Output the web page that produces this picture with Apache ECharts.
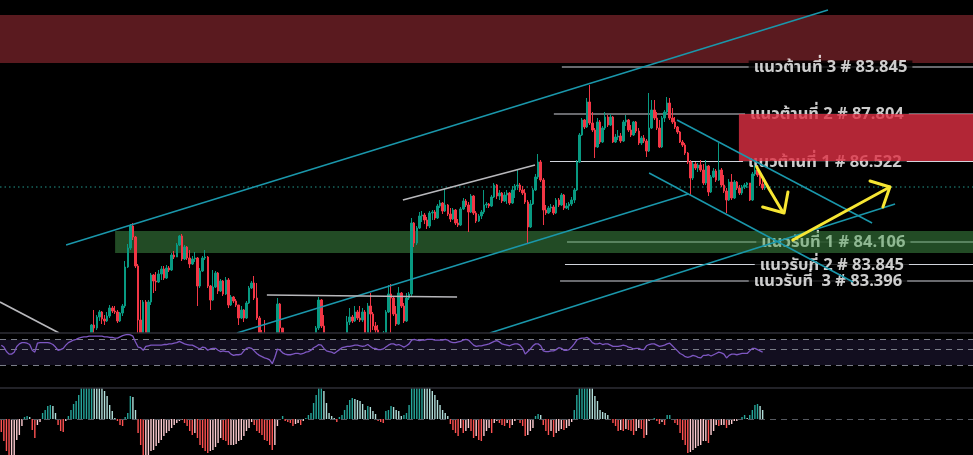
<!DOCTYPE html>
<html><head><meta charset="utf-8">
<script src="https://cdn.jsdelivr.net/npm/echarts@6/dist/echarts.min.js"></script>
<style>html,body{margin:0;padding:0;background:#000;overflow:hidden}#c{width:973px;height:455px}</style>
</head><body><div id="c"></div>
<script>
// ---------- data ----------
const barCount = 377;          // slots on the time axis (incl. empty right margin)
const candleStart = 34;        // first bar index that has a visible candle
const firstOpen = 86.55;

const closes = [
86.58,86.75,86.72,86.83,86.88,86.81,86.79,86.84,86.92,86.89,
86.88,86.79,86.87,86.94,87.33,87.52,87.74,87.63,87.34,86.80,
86.60,86.98,86.62,86.98,87.25,87.19,87.18,87.26,87.31,87.22,
87.32,87.30,87.45,87.43,87.55,87.64,87.41,87.53,87.42,87.36,
87.41,87.42,87.14,87.29,87.42,87.43,87.14,87.00,87.13,87.27,
87.09,87.19,87.06,87.20,86.95,87.03,86.99,86.95,86.82,86.90,
86.82,86.97,87.12,87.17,87.02,86.82,86.67,86.65,86.60,86.52,
86.48,86.44,86.50,86.96,86.72,86.55,86.50,86.44,86.40,86.38,
86.42,86.45,86.48,86.44,86.50,86.54,86.58,86.62,86.72,87.00,
86.74,86.55,86.50,86.44,86.40,86.45,86.48,86.52,86.55,86.60,
86.78,86.83,86.79,86.88,86.82,86.80,86.88,86.67,86.94,86.86,
86.74,86.70,86.60,86.55,86.67,86.88,87.06,87.02,86.86,86.76,
87.07,86.94,86.79,87.02,87.06,87.77,87.57,87.72,87.84,87.85,
87.80,87.74,87.87,87.88,87.82,87.94,87.97,87.89,87.95,87.86,
87.81,87.90,87.77,87.75,87.91,87.99,87.95,87.88,88.04,87.87,
87.79,87.84,87.88,87.95,87.96,87.94,88.03,88.15,88.04,88.07,
87.99,88.05,88.07,87.97,88.10,88.14,88.15,88.10,88.07,87.98,
87.73,87.96,88.10,88.23,88.38,88.20,87.90,87.87,87.92,87.93,
87.87,88.00,87.95,88.05,87.92,87.94,87.96,88.00,88.10,88.38,
88.65,88.80,88.73,88.98,88.77,88.70,88.53,88.78,88.58,88.72,
88.83,88.75,88.83,88.58,88.63,88.64,88.59,88.78,88.80,88.70,
88.65,88.78,88.69,88.57,88.62,88.59,88.49,88.72,88.90,88.82,
88.72,88.53,88.82,88.88,88.97,88.82,88.78,88.73,88.68,88.58,
88.55,88.47,88.38,88.22,88.36,88.32,88.35,88.30,88.17,88.34,
88.08,88.23,88.29,88.20,88.30,88.15,88.09,88.00,88.18,88.02,
88.18,88.12,88.07,88.13,88.15,88.17,88.00,88.26,88.30,88.25,
88.16,88.12,88.13];

const highs = [
86.62,86.76,86.90,86.85,86.90,86.89,86.85,86.88,86.95,86.94,
86.94,86.90,86.88,86.96,87.39,87.56,87.76,87.77,87.64,87.36,
87.00,87.00,87.00,87.00,87.27,87.26,87.28,87.30,87.34,87.34,
87.35,87.34,87.47,87.49,87.57,87.65,87.66,87.55,87.54,87.50,
87.44,87.48,87.43,87.32,87.44,87.50,87.44,87.15,87.30,87.29,
87.28,87.21,87.20,87.23,87.22,87.05,87.04,87.01,86.95,86.94,
86.91,86.99,87.14,87.19,87.24,87.17,86.84,86.70,86.80,86.62,
86.58,86.54,86.56,87.02,86.97,86.72,86.60,86.52,86.48,86.45,
86.48,86.52,86.54,86.52,86.55,86.60,86.62,86.66,86.74,87.03,
87.01,86.85,86.58,86.52,86.48,86.50,86.54,86.58,86.60,86.64,
86.84,86.92,86.85,86.94,86.90,86.94,86.92,86.90,86.97,87.07,
86.88,86.78,86.75,86.67,86.69,86.90,87.15,87.16,87.04,86.94,
87.13,87.08,86.97,87.07,87.08,87.82,87.78,87.74,87.88,87.89,
87.87,87.83,87.89,87.90,87.90,87.96,88.00,87.98,88.11,87.96,
87.92,87.92,87.91,87.81,87.93,88.02,88.01,87.98,88.06,88.05,
87.89,87.86,87.90,88.10,87.98,87.97,88.05,88.17,88.16,88.10,
88.08,88.08,88.10,88.08,88.14,88.16,88.30,88.17,88.14,88.11,
88.00,88.00,88.12,88.26,88.46,88.40,88.22,87.95,87.94,87.96,
87.95,88.02,88.02,88.07,88.06,87.97,87.98,88.03,88.12,88.40,
88.67,88.82,88.81,89.02,89.15,88.88,88.72,88.82,88.80,88.74,
88.88,88.85,88.86,88.84,88.66,88.70,88.67,88.80,88.85,88.81,
88.75,88.79,88.79,88.72,88.64,88.65,88.61,89.07,89.00,89.00,
88.88,88.80,88.84,88.90,89.03,89.02,88.92,88.83,88.74,88.69,
88.60,88.57,88.48,88.40,88.38,88.38,88.37,88.40,88.36,88.40,
88.35,88.25,88.32,88.31,88.57,88.32,88.25,88.12,88.21,88.26,
88.20,88.19,88.15,88.15,88.17,88.18,88.17,88.28,88.35,88.32,
88.28,88.22,88.17];

const lows = [
86.50,86.55,86.67,86.70,86.79,86.76,86.75,86.78,86.82,86.87,
86.86,86.77,86.78,86.84,86.92,87.32,87.50,87.60,87.32,86.65,
86.50,86.55,86.55,86.55,86.95,87.07,87.09,87.17,87.20,87.20,
87.21,87.28,87.29,87.41,87.43,87.54,87.39,87.40,87.40,87.32,
87.35,87.38,86.94,87.12,87.28,87.40,87.12,86.90,86.99,87.12,
87.06,87.08,87.04,87.05,86.92,86.94,86.97,86.93,86.75,86.81,
86.78,86.81,86.96,87.11,87.00,86.80,86.64,86.60,86.55,86.48,
86.44,86.40,86.42,86.48,86.65,86.50,86.45,86.40,86.35,86.32,
86.36,86.40,86.42,86.40,86.42,86.48,86.52,86.55,86.55,86.70,
86.72,86.50,86.44,86.40,86.36,86.38,86.42,86.46,86.50,86.50,
86.60,86.75,86.77,86.78,86.80,86.78,86.78,86.60,86.60,86.67,
86.70,86.65,86.55,86.50,86.52,86.66,86.87,86.67,86.84,86.74,
86.75,86.92,86.77,86.78,87.00,87.04,87.53,87.55,87.71,87.78,
87.76,87.71,87.72,87.80,87.80,87.81,87.92,87.86,87.88,87.84,
87.78,87.80,87.75,87.73,87.74,87.90,87.93,87.68,87.87,87.85,
87.77,87.78,87.81,87.86,87.92,87.92,87.93,88.02,88.01,88.00,
87.97,87.98,87.96,87.95,87.96,88.02,88.10,88.08,88.05,87.96,
87.56,87.72,87.95,88.09,88.21,88.18,87.75,87.85,87.86,87.88,
87.85,87.86,87.93,87.94,87.90,87.91,87.90,87.94,87.97,88.09,
88.37,88.64,88.71,88.72,88.75,88.68,88.42,88.52,88.56,88.57,
88.70,88.73,88.74,88.57,88.57,88.60,88.57,88.58,88.74,88.68,
88.63,88.64,88.67,88.55,88.55,88.57,88.43,88.48,88.71,88.80,
88.70,88.52,88.52,88.78,88.86,88.80,88.76,88.71,88.66,88.57,
88.53,88.45,88.36,88.05,88.20,88.30,88.28,88.28,88.15,88.15,
88.04,88.07,88.22,88.18,88.19,88.13,88.07,87.87,87.99,88.00,
88.01,88.10,88.05,88.05,88.11,88.12,87.99,87.99,88.24,88.23,
88.14,88.10,88.10];

const rsi = [
61,58,51,47,47,50,59,63,65,65,64,62,53,50,64,65,65,65,65,64,
62,58,53,54,56,61,65,67,69,70,72,73,74,74,75,75,75,75,75,75,
74,74,73,73,72,72,74,76,77,78,77,75,66,58,57,53,59,60,61,61,
61,61,61,62,62,63,63,64,65,67,65,63,62,61,61,59,57,55,58,57,
53,55,56,56,53,51,52,51,51,47,45,46,46,47,52,56,57,56,52,48,
45,43,41,40,38,32,42,55,53,49,47,46,46,47,48,48,47,48,50,51,
53,57,59,62,61,56,52,51,50,48,51,54,57,58,59,59,60,61,61,60,
59,60,62,59,56,56,54,54,55,58,61,63,63,61,62,60,58,60,63,69,
70,69,68,69,69,70,70,70,69,69,69,69,70,69,66,65,65,66,67,69,
70,69,65,61,59,60,60,61,62,63,65,67,68,66,63,62,61,60,62,63,
63,61,56,47,51,55,60,63,63,60,52,51,51,52,52,54,57,56,53,53,
54,58,63,69,71,72,72,73,70,65,63,63,64,62,63,63,61,59,59,59,
60,61,60,58,57,55,56,56,54,54,60,62,63,63,61,59,60,61,63,64,
60,56,52,48,46,43,42,43,45,44,42,41,45,45,46,44,46,48,50,49,
47,41,45,47,47,46,47,48,48,48,52,56,56,54,52,50];

const macdHist = [
-0.13,-0.22,-0.32,-0.40,-0.40,-0.38,-0.21,-0.16,-0.07,0.02,
0.03,0.02,-0.11,-0.19,-0.06,-0.03,0.06,0.09,0.13,0.14,
0.13,0.06,-0.06,-0.12,-0.13,-0.02,0.03,0.09,0.15,0.18,
0.24,0.33,0.36,0.39,0.41,0.42,0.40,0.38,0.35,0.32,
0.28,0.23,0.14,0.08,0.01,-0.02,-0.06,-0.07,0.02,0.06,
0.23,0.22,0.09,-0.14,-0.26,-0.45,-0.42,-0.39,-0.32,-0.31,
-0.27,-0.24,-0.21,-0.17,-0.14,-0.12,-0.09,-0.06,-0.04,-0.02,
-0.01,-0.04,-0.07,-0.12,-0.16,-0.14,-0.19,-0.26,-0.29,-0.32,
-0.34,-0.32,-0.31,-0.28,-0.24,-0.19,-0.21,-0.22,-0.26,-0.26,
-0.26,-0.25,-0.22,-0.21,-0.17,-0.12,-0.09,-0.03,-0.06,-0.12,
-0.14,-0.16,-0.21,-0.22,-0.26,-0.31,-0.26,-0.07,-0.01,0.03,
-0.02,-0.03,-0.04,-0.07,-0.05,-0.04,-0.06,-0.02,0.01,0.04,
0.06,0.16,0.24,0.33,0.34,0.28,0.16,0.06,0.03,0.01,
-0.03,0.02,0.04,0.09,0.14,0.19,0.21,0.20,0.19,0.18,
0.15,0.09,0.13,0.12,0.08,0.05,-0.02,-0.03,-0.04,0.08,
0.09,0.13,0.12,0.09,0.08,0.03,0.04,0.06,0.14,0.33,
0.37,0.40,0.42,0.43,0.41,0.37,0.33,0.28,0.24,0.19,
0.14,0.09,0.06,0.03,-0.05,-0.11,-0.14,-0.17,-0.09,-0.14,
-0.12,-0.09,-0.12,-0.19,-0.17,-0.21,-0.22,-0.17,-0.12,-0.09,
-0.14,-0.04,-0.02,-0.04,-0.06,-0.07,-0.04,-0.09,-0.06,-0.02,
-0.01,-0.04,-0.07,-0.17,-0.16,-0.12,-0.09,0.03,0.05,0.04,
-0.06,-0.12,-0.16,-0.12,-0.18,-0.14,-0.12,-0.10,-0.11,-0.09,
-0.07,-0.03,0.09,0.24,0.34,0.38,0.41,0.43,0.42,0.33,
0.23,0.18,0.09,0.07,0.06,0.04,-0.01,-0.04,-0.07,-0.12,
-0.11,-0.12,-0.10,-0.11,-0.12,-0.16,-0.12,-0.09,-0.10,-0.19,
-0.16,-0.02,-0.01,0.01,-0.02,-0.05,-0.03,-0.06,0.04,0.04,
-0.01,-0.04,-0.06,-0.14,-0.21,-0.26,-0.34,-0.33,-0.31,-0.29,
-0.27,-0.26,-0.22,-0.22,-0.24,-0.16,-0.12,-0.06,-0.07,-0.06,
-0.06,-0.09,-0.06,-0.05,-0.02,-0.02,-0.01,0.02,0.04,0.01,
0.04,0.09,0.14,0.15,0.13,0.09];

// support / resistance levels
const levelNames  = ['แนวต้านที่ 3 # 83.845','แนวต้านที่ 2 # 87.804','แนวต้านที่ 1 # 86.522',
                     'แนวรับที่ 1 # 84.106','แนวรับที่ 2 # 83.845','แนวรับที่  3 # 83.396'];
const levelPrices = [89.33, 88.86, 88.385, 87.58, 87.355, 87.19];
const levelFrom   = [217.7, 214.6, 213.1, 219.7, 218.9, 217.0];   // bar units
const levelTextAt = [321.8, 320.4, 319.6, 322.9, 322.3, 320.8];   // bar units
const lastPrice = 88.13;

// zones [[x0, p0], [x1, p1]] in bar units / price
const zoneTop = [[0, 89.85], [377, 89.37]];
const zoneRes = [[286.3, 88.86], [377, 88.39]];
const zoneSup = [[44.6, 87.69], [377, 87.47]];

// drawn trend lines
const cyanLines = [
  [[25.6, 87.55], [320.8, 89.90]],
  [[91.8, 86.67], [266.6, 88.06]],
  [[262.3, 88.80], [337.9, 87.77]],
  [[251.5, 88.27], [330.5, 87.18]],
  [[189.8, 86.67], [346.8, 87.96]]
];
const greyLines = [
  [[0, 86.98], [22.9, 86.67]],
  [[103.4, 87.05], [177.1, 87.03]],
  [[156.1, 88.00], [207.3, 88.35]]
];
const arrows = [
  [[293.2, 88.33], [298.0, 88.11], [303.3, 87.88]],
  [[305.3, 88.08], [303.8, 87.87], [295.5, 87.93]],
  [[307.2, 87.60], [344.8, 88.13]],
  [[337.1, 88.19], [344.8, 88.13], [342.1, 87.93]]
];
const rsiLevels = [70, 54, 30];
const rsiRange = [-6, 80];

// ---------- build ----------
const cats = Array.from({length: barCount}, (_, i) => String(i));
const candleData = cats.map((_, i) => {
  const k = i - candleStart;
  if (k < 0 || k >= closes.length) return '-';
  const open = k === 0 ? firstOpen : closes[k - 1];
  return [open, closes[k], lows[k], highs[k]];
});
const pad = arr => cats.map((_, i) => i < arr.length ? arr[i] : '-');
const macdData = cats.map((_, i) => {
  if (i >= macdHist.length) return '-';
  const v = macdHist[i], p = i > 0 ? macdHist[i - 1] : 0;
  let c;
  if (v >= 0) c = v >= p ? '#26a69a' : '#b2dfdb';
  else c = v < p ? '#ff5252' : '#ffcdd2';
  return {value: v, itemStyle: {color: c}};
});
const FONT = "'Noto Sans Thai','Noto Sans','DejaVu Sans',sans-serif";
const sepLine = {show: true, onZero: false, lineStyle: {color: '#2e2e36', width: 1.5}};

const chart = echarts.init(document.getElementById('c'));
chart.setOption({
  backgroundColor: '#000',
  animation: false,
  grid: [
    {left: 0, right: 0, top: 0, height: 333},
    {left: 0, right: 0, top: 333, height: 55},
    {left: 0, right: 0, top: 388, height: 67}
  ],
  xAxis: [
    {type: 'category', gridIndex: 0, data: cats, boundaryGap: true, z: 20,
     axisLine: sepLine, axisTick: {show: false}, axisLabel: {show: false}, splitLine: {show: false}},
    {type: 'value', gridIndex: 0, min: 0, max: barCount, show: false},
    {type: 'category', gridIndex: 1, data: cats, boundaryGap: true, z: 20,
     axisLine: sepLine, axisTick: {show: false}, axisLabel: {show: false}, splitLine: {show: false}},
    {type: 'category', gridIndex: 2, data: cats, boundaryGap: true, show: false}
  ],
  yAxis: [
    {type: 'value', gridIndex: 0, min: 86.67, max: 90, show: false, splitLine: {show: false}},
    {type: 'value', gridIndex: 1, min: rsiRange[0], max: rsiRange[1], show: false, splitLine: {show: false}},
    {type: 'value', gridIndex: 2, min: -0.36, max: 0.31, show: false, splitLine: {show: false}}
  ],
  series: [
    { // level lines + top zone (under the texts)
      type: 'lines', coordinateSystem: 'cartesian2d', xAxisIndex: 1, yAxisIndex: 0,
      polyline: true, z: 1, silent: true,
      lineStyle: {color: '#d1d4dc', width: 1.2, opacity: 1},
      data: levelPrices.map((p, k) => ({coords: [[levelFrom[k], p], [barCount, p]]}))
    },
    { // last price dotted line
      type: 'scatter', xAxisIndex: 1, yAxisIndex: 0, z: 1, silent: true, data: [],
      markArea: {z: 0, silent: true, data: [
        [{coord: zoneTop[0], itemStyle: {color: '#5a1a1f'}}, {coord: zoneTop[1]}]
      ]}
    },
    {
      type: 'lines', coordinateSystem: 'cartesian2d', xAxisIndex: 1, yAxisIndex: 0,
      polyline: true, z: 1, silent: true,
      lineStyle: {color: '#26a69a', width: 1, type: [1.5, 3], opacity: 0.9},
      data: [{coords: [[0, lastPrice], [barCount, lastPrice]]}]
    },
    { // level texts + zones
      type: 'scatter', xAxisIndex: 1, yAxisIndex: 0, z: 2, silent: true,
      symbolSize: 1, itemStyle: {color: 'rgba(0,0,0,0)'},
      data: levelPrices.map((p, k) => [levelTextAt[k], p, levelNames[k]]),
      label: {show: true, position: 'inside', formatter: q => q.data[2], offset: [0, 2],
        color: '#ffffff', fontSize: 16.5, fontWeight: 'bold', fontFamily: FONT,
        backgroundColor: '#000', padding: [0, 5]},
      markArea: {z: 3, silent: true, data: [
        [{coord: zoneRes[0], itemStyle: {color: 'rgba(222,48,67,0.8)'}}, {coord: zoneRes[1]}],
        [{coord: zoneSup[0], itemStyle: {color: 'rgba(72,160,79,0.47)'}}, {coord: zoneSup[1]}]
      ]}
    },
    {
      type: 'candlestick', xAxisIndex: 0, yAxisIndex: 0, z: 4, silent: true, clip: true,
      barWidth: 2,
      itemStyle: {color: '#089981', color0: '#f23645', borderColor: '#089981', borderColor0: '#f23645', borderWidth: 1},
      data: candleData
    },
    {
      type: 'lines', coordinateSystem: 'cartesian2d', xAxisIndex: 1, yAxisIndex: 0,
      polyline: true, z: 5, silent: true,
      lineStyle: {color: '#1a97ab', width: 1.5, opacity: 1},
      data: cyanLines.map(c => ({coords: c}))
    },
    {
      type: 'lines', coordinateSystem: 'cartesian2d', xAxisIndex: 1, yAxisIndex: 0,
      polyline: true, z: 5, silent: true,
      lineStyle: {color: '#b8b8bc', width: 1.6, opacity: 1},
      data: greyLines.map(c => ({coords: c}))
    },
    {
      type: 'lines', coordinateSystem: 'cartesian2d', xAxisIndex: 1, yAxisIndex: 0,
      polyline: true, z: 6, silent: true,
      lineStyle: {color: '#f7e633', width: 3, opacity: 1, cap: 'round', join: 'round'},
      data: arrows.map(c => ({coords: c}))
    },
    { // RSI
      type: 'line', xAxisIndex: 2, yAxisIndex: 1, data: pad(rsi), showSymbol: false, silent: true,
      lineStyle: {color: '#7e57c2', width: 1.3}, z: 12,
      markArea: {silent: true, z: 10, data: [
        [{yAxis: rsiRange[0], itemStyle: {color: '#000'}}, {yAxis: rsiRange[1]}],
        [{yAxis: rsiLevels[0], itemStyle: {color: '#120e1f'}}, {yAxis: rsiLevels[2]}]
      ]},
      markLine: {silent: true, symbol: 'none', z: 11, label: {show: false},
        lineStyle: {color: '#7a7d88', type: [6, 5], width: 1},
        data: rsiLevels.map(v => ({yAxis: v}))}
    },
    { // MACD histogram
      type: 'bar', xAxisIndex: 3, yAxisIndex: 2, data: macdData, barWidth: 1.4, silent: true,
      markLine: {silent: true, symbol: 'none', label: {show: false},
        lineStyle: {color: '#55585f', type: [6, 5], width: 1}, data: [{yAxis: 0}]}
    }
  ]
});
</script></body></html>
